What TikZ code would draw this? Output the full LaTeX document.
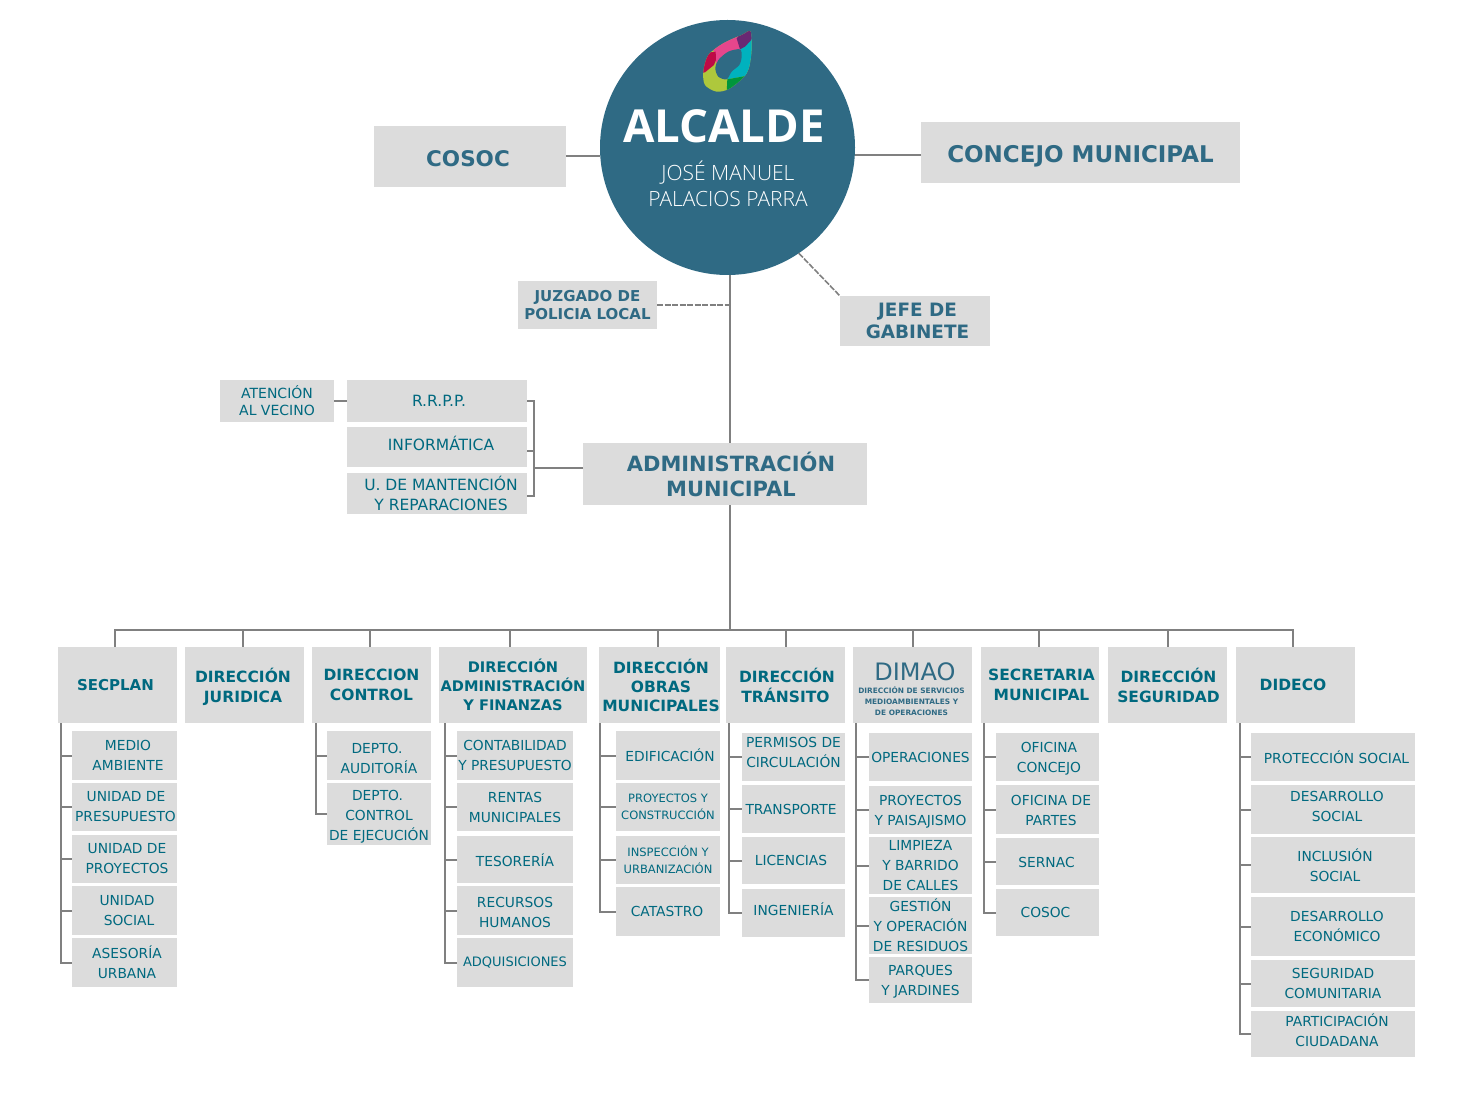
\documentclass[tikz,border=0pt]{standalone}
\usepackage{fontspec}
\setmainfont{DejaVu Sans}
\newfontfamily\abierta{Open Sans}
\newfontfamily\abiertafina{Open Sans Light}
\usetikzlibrary{positioning}
\definecolor{azul}{HTML}{2F6A84}
\definecolor{petroleo}{HTML}{00697F}
\definecolor{gris}{HTML}{DCDCDC}
\definecolor{linea}{HTML}{808080}
\definecolor{lima}{HTML}{AEC83C}
\definecolor{verde}{HTML}{00963C}
\definecolor{turquesa}{HTML}{00B2BE}
\definecolor{rosa}{HTML}{E6468C}
\definecolor{carmin}{HTML}{BE0A46}
\definecolor{morado}{HTML}{692873}
\newcommand{\hojafont}{\fontsize{13.8}{20}\selectfont}
\newcommand{\jefefont}{\fontsize{15.5}{20}\selectfont\bfseries}
\newcommand{\mv}[1]{\hspace*{#1}}
\newcommand{\alto}[1]{\rule{0pt}{#1}}
\newcommand{\hondo}[1]{\rule[-#1]{0pt}{0pt}}

\begin{document}
\begin{tikzpicture}[
    x=1pt, y=-1pt,
    punkt/.style = {rectangle, fill=gris, inner sep=0pt, outer sep=0pt, align=center},
    mando/.style 2 args = {punkt, text=azul, font=\fontsize{21.5}{25}\selectfont\bfseries, minimum width=#1, minimum height=#2},
    jefe/.style = {punkt, text=petroleo, font=\jefefont, minimum width=119, minimum height=76},
    hoja/.style 2 args = {punkt, text=petroleo, font=\hojafont, minimum width=#1, minimum height=#2},
    pil/.style = {linea, line width=2pt},
    pilfina/.style = {pil},
    guion/.style = {pil, line width=1.6pt, dash pattern=on 6pt off 1.5pt}
    ]
  \useasboundingbox (0,0) rectangle (1476,1107);

  % alcalde
  \node[circle, fill=azul, minimum size=255, inner sep=0pt, outer sep=0pt] (alcalde) at (727.5,147.5) {};
  \node[text=white, font=\abierta\fontsize{45.5}{48}\selectfont\bfseries] (cargo) at (724,126) {ALCALDE};
  \node[text=white, align=center, font=\abiertafina\fontsize{21}{26}\selectfont] (nombre) at (728,184) {JOSÉ MANUEL\\PALACIOS PARRA};

  % logo
  \begin{scope}[shift={(590,10)}, x=.3333pt, y=-.3333pt]
    \begin{scope}
      \clip plot[smooth cycle] coordinates {(482,65) (484,130) (470,190) (420,235) (380,245) (345,225) (340,185) (355,135) (400,100) (455,75)};
      \fill[lima] (320,50) rectangle (510,260);
      \fill[turquesa] (450,100) -- (500,60) -- (500,200) -- (468,198) -- (412,208) -- (430,150) -- cycle;
      \fill[verde] (412,208) -- (468,198) -- (470,215) -- (440,250) -- (410,250) -- cycle;
      \fill[rosa] (375,127) -- (350,100) -- (440,60) -- (445,90) -- (452,118) -- (410,130) -- (378,160) -- cycle;
      \fill[carmin] (345,187) -- (372,165) -- (378,150) -- (377,125) -- (340,130) -- (330,190) -- cycle;
      \fill[morado] (440,85) -- (470,50) -- (500,60) -- (482,92) -- (465,110) -- (450,118) -- cycle;
    \end{scope}
    \fill[azul] plot[smooth cycle] coordinates {(450,118) (415,125) (385,150) (376,175) (385,200) (410,208) (425,185) (448,165) (455,140)};
  \end{scope}

  \node[mando={192}{61}] (cosoc) at (470,156.5) {\mv{-4pt}\alto{20pt}COSOC};
  \node[mando={319}{61}, font=\fontsize{23}{25}\selectfont\bfseries] (concejo) at (1080.5,152.5) {\alto{25pt}CONCEJO MUNICIPAL};
  \node[punkt, text=azul, font=\fontsize{15}{18}\selectfont\bfseries, minimum width=139, minimum height=48] (juzgado) at (587.5,305) {JUZGADO DE\\POLICIA LOCAL};
  \node[punkt, text=azul, font=\fontsize{18.4}{22}\selectfont\bfseries, minimum width=150, minimum height=50] (gabinete) at (915,321) {\mv{5pt}JEFE DE\\\mv{5pt}GABINETE};

  \node[hoja={114}{42}, font=\fontsize{14}{17}\selectfont] (vecino) at (277,401) {ATENCIÓN\\AL VECINO};
  \node[hoja={180}{42}, font=\fontsize{15.5}{20}\selectfont] (rrpp) at (437,401) {\mv{4pt}R.R.P.P.};
  \node[hoja={180}{40}, font=\fontsize{15.5}{20}\selectfont] (informatica) at (437,447) {\mv{8pt}INFORMÁTICA\hondo{7pt}};
  \node[hoja={180}{41}, font=\fontsize{15.5}{20}\selectfont] (mantencion) at (437,493.5) {\mv{8pt}U. DE MANTENCIÓN\\\mv{8pt}Y REPARACIONES};
  \node[mando={284}{62}, font=\fontsize{21}{25}\selectfont\bfseries] (admin) at (725,474) {\mv{12pt}ADMINISTRACIÓN\\\mv{12pt}MUNICIPAL};

  % direcciones
  \node[jefe, font=\fontsize{15}{20}\selectfont\bfseries] (secplan) at (117.5,685) {\mv{-4pt}SECPLAN};
  \node[jefe] (juridica) at (244.5,685) {\alto{18pt}\mv{-3pt}DIRECCIÓN\\\mv{-3pt}JURIDICA};
  \node[jefe] (control) at (371.5,685) {DIRECCION\\CONTROL};
  \node[jefe, minimum width=148, font=\fontsize{14.6}{19}\selectfont\bfseries] (finanzas) at (513,685) {DIRECCIÓN\\ADMINISTRACIÓN\\Y FINANZAS};
  \node[jefe, minimum width=121, font=\fontsize{15.5}{19}\selectfont\bfseries] (obras) at (659.5,685) {\mv{3pt}DIRECCIÓN\\\mv{3pt}OBRAS\\\mv{3pt}MUNICIPALES};
  \node[jefe] (transito) at (785.5,685) {\alto{16pt}\mv{3pt}DIRECCIÓN\\TRÁNSITO};
  \node[jefe] (dimao) at (912.5,685) {};
  \node[text=azul, font=\fontsize{24}{24}\selectfont] (dimaotit) at (915,672) {DIMAO};
  \node[text=azul, align=center, font=\fontsize{7.4}{11}\selectfont\bfseries] (dimaosub) at (911.5,701) {DIRECCIÓN DE SERVICIOS\\MEDIOAMBIENTALES Y\\DE OPERACIONES};
  \node[jefe, minimum width=118] (secretaria) at (1040,685) {\mv{3pt}SECRETARIA\\\mv{3pt}MUNICIPAL};
  \node[jefe] (seguridad) at (1167.5,685) {\mv{2pt}DIRECCIÓN\\\mv{2pt}SEGURIDAD};
  \node[jefe] (dideco) at (1295.5,685) {\mv{-5pt}DIDECO};

  % secplan
  \node[hoja={105}{49}] (medio) at (124.5,755.5) {\mv{7pt}MEDIO\\\mv{7pt}AMBIENTE};
  \node[hoja={105}{48}] (presupuesto) at (124.5,807) {\mv{3pt}UNIDAD DE\\\mv{2pt}PRESUPUESTO};
  \node[hoja={105}{48}] (proyectos) at (124.5,859) {\mv{5pt}UNIDAD DE\\\mv{5pt}PROYECTOS};
  \node[hoja={105}{49}] (social) at (124.5,910.5) {\mv{5pt}UNIDAD\\\mv{9pt}SOCIAL};
  \node[hoja={105}{49}] (asesoria) at (124.5,962.5) {\mv{5pt}ASESORÍA\\\mv{5pt}URBANA};

  % control
  \node[hoja={104}{49}] (auditoria) at (379,755.5) {\alto{16pt}\mv{-4pt}DEPTO.\\AUDITORÍA};
  \node[hoja={104}{62}] (ejecucion) at (379,814) {\alto{16pt}\mv{-3pt}DEPTO.\\CONTROL\\DE EJECUCIÓN};

  % finanzas
  \node[hoja={116}{49}] (contabilidad) at (515,755.5) {CONTABILIDAD\\Y PRESUPUESTO};
  \node[hoja={116}{48}] (rentas) at (515,807) {RENTAS\\MUNICIPALES};
  \node[hoja={116}{47}] (tesoreria) at (515,859.5) {\alto{14pt}TESORERÍA};
  \node[hoja={116}{49}] (recursos) at (515,910.5) {\alto{14pt}RECURSOS\\HUMANOS};
  \node[hoja={116}{49}, font=\fontsize{13}{20}\selectfont] (adquisiciones) at (515,962.5) {ADQUISICIONES};

  % obras
  \node[hoja={104}{49}] (edificacion) at (668,755.5) {\mv{4pt}EDIFICACIÓN};
  \node[hoja={104}{48}, font=\fontsize{11.5}{17}\selectfont] (construccion) at (668,807) {PROYECTOS Y\\CONSTRUCCIÓN};
  \node[hoja={104}{48}, font=\fontsize{11.5}{17}\selectfont] (urbanizacion) at (668,860) {INSPECCIÓN Y\\URBANIZACIÓN};
  \node[hoja={104}{49}] (catastro) at (668,911.5) {\mv{-2pt}CATASTRO};

  % transito
  \node[hoja={103}{48}] (permisos) at (793.5,757) {PERMISOS DE\\CIRCULACIÓN\hondo{9pt}};
  \node[hoja={103}{48}] (transporte) at (793.5,809) {\mv{-5pt}TRANSPORTE};
  \node[hoja={103}{47}] (licencias) at (793.5,860.5) {\mv{-5pt}LICENCIAS};
  \node[hoja={103}{48}] (ingenieria) at (793.5,913) {INGENIERÍA\hondo{8pt}};

  % dimao
  \node[hoja={103}{48}] (operaciones) at (920.5,757) {OPERACIONES};
  \node[hoja={103}{48}] (paisajismo) at (920.5,810) {\alto{14pt}PROYECTOS\\Y PAISAJISMO};
  \node[hoja={103}{57}] (limpieza) at (920.5,865.5) {LIMPIEZA\\Y BARRIDO\\DE CALLES};
  \node[hoja={103}{57}] (residuos) at (920.5,925.5) {GESTIÓN\\Y OPERACIÓN\\DE RESIDUOS};
  \node[hoja={103}{46}] (jardines) at (920.5,980) {\alto{14pt}PARQUES\\Y JARDINES};

  % secretaria
  \node[hoja={103}{48}] (oficina) at (1047.5,757) {\alto{14pt}\mv{3pt}OFICINA\\\mv{3pt}CONCEJO};
  \node[hoja={103}{49}] (partes) at (1047.5,809.5) {\alto{13pt}\mv{7pt}OFICINA DE\\\mv{7pt}PARTES};
  \node[hoja={103}{47}] (sernac) at (1047.5,861.5) {\alto{13pt}\mv{-2pt}SERNAC};
  \node[hoja={103}{47}] (cosocdos) at (1047.5,912.5) {\mv{-4pt}COSOC};

  % dideco
  \node[hoja={164}{48}] (proteccion) at (1333,757) {\mv{7pt}PROTECCIÓN SOCIAL};
  \node[hoja={164}{49}] (desarrollo) at (1333,809.5) {\mv{8pt}DESARROLLO\\\mv{8pt}SOCIAL\hondo{7pt}};
  \node[hoja={164}{56}] (inclusion) at (1333,865) {\mv{4pt}INCLUSIÓN\\\mv{4pt}SOCIAL};
  \node[hoja={164}{59}] (economico) at (1333,926.5) {\mv{8pt}DESARROLLO\\\mv{8pt}ECONÓMICO};
  \node[hoja={164}{47}] (comunitaria) at (1333,983.5) {SEGURIDAD\\COMUNITARIA};
  \node[hoja={164}{46}] (ciudadana) at (1333,1034) {\mv{8pt}PARTICIPACIÓN\\\mv{8pt}CIUDADANA\hondo{7pt}};

  \coordinate (bus) at (730,630);
  \coordinate (corchete) at (534,468);

  \draw[pil] (cosoc.east) -- (cosoc.east -| alcalde.west);
  \draw[pil] ([yshift=-2.5pt]concejo.west) -- ([yshift=-2.5pt]concejo.west -| alcalde.east);
  \draw[pil] ([xshift=2.5pt]alcalde.south) -- ([xshift=5pt]admin.north);
  \draw[guion] (juzgado.east) -- (juzgado.east -| bus);
  \draw[guion] (alcalde.-56) -- (gabinete.north west);
  \draw[pilfina] (vecino.east) -- (vecino.east -| rrpp.west);
  \draw[pil] ([yshift=6pt]admin.west) -- (corchete);
  \draw[pilfina] (rrpp.east) -| (corchete);
  \draw[pilfina] ([yshift=-4pt]informatica.east) -| (corchete);
  \draw[pilfina] ([yshift=-2.5pt]mantencion.east) -| (corchete);

  \draw[pil] ([xshift=5pt]admin.south) -- (bus);
  \draw[pil] (bus) -| ([xshift=-2.5pt]secplan.north);
  \draw[pil] (bus) -| ([xshift=-1.5pt]juridica.north);
  \draw[pil] (bus) -| ([xshift=-1.5pt]control.north);
  \draw[pil] (bus) -| ([xshift=-3pt]finanzas.north);
  \draw[pil] (bus) -| ([xshift=-1.5pt]obras.north);
  \draw[pil] (bus) -| (transito.north);
  \draw[pil] (bus) -| (dimao.north);
  \draw[pil] (bus) -| ([xshift=-1pt]secretaria.north);
  \draw[pil] (bus) -| (seguridad.north);
  \draw[pil] (bus) -| ([xshift=-2.5pt]dideco.north);

  \draw[pilfina]
  ([xshift=3pt]secplan.south west) |- (medio.west)
  ([xshift=3pt]secplan.south west) |- (presupuesto.west)
  ([xshift=3pt]secplan.south west) |- (proyectos.west)
  ([xshift=3pt]secplan.south west) |- (social.west)
  ([xshift=3pt]secplan.south west) |- (asesoria.west)

  ([xshift=4pt]control.south west) |- (auditoria.west)
  ([xshift=4pt]control.south west) |- (ejecucion.west)

  ([xshift=6pt]finanzas.south west) |- (contabilidad.west)
  ([xshift=6pt]finanzas.south west) |- (rentas.west)
  ([xshift=6pt]finanzas.south west) |- (tesoreria.west)
  ([xshift=6pt]finanzas.south west) |- (recursos.west)
  ([xshift=6pt]finanzas.south west) |- (adquisiciones.west)

  ([xshift=1pt]obras.south west) |- (edificacion.west)
  ([xshift=1pt]obras.south west) |- (construccion.west)
  ([xshift=1pt]obras.south west) |- (urbanizacion.west)
  ([xshift=1pt]obras.south west) |- (catastro.west)

  ([xshift=3pt]transito.south west) |- (permisos.west)
  ([xshift=3pt]transito.south west) |- (transporte.west)
  ([xshift=3pt]transito.south west) |- (licencias.west)
  ([xshift=3pt]transito.south west) |- (ingenieria.west)

  ([xshift=3pt]dimao.south west) |- (operaciones.west)
  ([xshift=3pt]dimao.south west) |- (paisajismo.west)
  ([xshift=3pt]dimao.south west) |- (limpieza.west)
  ([xshift=3pt]dimao.south west) |- (residuos.west)
  ([xshift=3pt]dimao.south west) |- (jardines.west)

  ([xshift=3pt]secretaria.south west) |- (oficina.west)
  ([xshift=3pt]secretaria.south west) |- (partes.west)
  ([xshift=3pt]secretaria.south west) |- (sernac.west)
  ([xshift=3pt]secretaria.south west) |- (cosocdos.west)

  ([xshift=4pt]dideco.south west) |- (proteccion.west)
  ([xshift=4pt]dideco.south west) |- (desarrollo.west)
  ([xshift=4pt]dideco.south west) |- (inclusion.west)
  ([xshift=4pt]dideco.south west) |- (economico.west)
  ([xshift=4pt]dideco.south west) |- (comunitaria.west)
  ([xshift=4pt]dideco.south west) |- (ciudadana.west);
\end{tikzpicture}
\end{document}
